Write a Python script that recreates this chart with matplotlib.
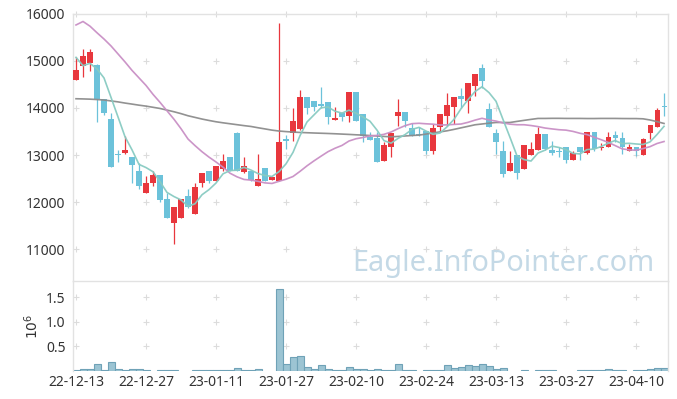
"""
Candlestick chart with moving averages and a volume panel
(Eagle.InfoPointer.com style), 22-12-13 .. 23-04-14.
"""

import numpy as np
import matplotlib
matplotlib.use("Agg")
import matplotlib.pyplot as plt

plt.rcParams['font.family'] = ['Noto Sans', 'DejaVu Sans']

# ---- data ----
dates = [
    "22-12-13", "22-12-14", "22-12-15", "22-12-16", "22-12-19", "22-12-20", "22-12-21",
    "22-12-22", "22-12-23", "22-12-26", "22-12-27", "22-12-28", "22-12-29",
    "23-01-02", "23-01-03", "23-01-04", "23-01-05", "23-01-06", "23-01-09", "23-01-10",
    "23-01-11", "23-01-12", "23-01-13", "23-01-16", "23-01-17", "23-01-18", "23-01-19",
    "23-01-20", "23-01-25", "23-01-26", "23-01-27", "23-01-30", "23-01-31",
    "23-02-01", "23-02-02", "23-02-03", "23-02-06", "23-02-07", "23-02-08", "23-02-09",
    "23-02-10", "23-02-13", "23-02-14", "23-02-15", "23-02-16", "23-02-17", "23-02-20",
    "23-02-21", "23-02-22", "23-02-23", "23-02-24", "23-02-27", "23-02-28",
    "23-03-02", "23-03-03", "23-03-06", "23-03-07", "23-03-08", "23-03-09", "23-03-10",
    "23-03-13", "23-03-14", "23-03-15", "23-03-16", "23-03-17", "23-03-20", "23-03-21",
    "23-03-22", "23-03-23", "23-03-24", "23-03-27", "23-03-28", "23-03-29", "23-03-30",
    "23-03-31", "23-04-03", "23-04-04", "23-04-05", "23-04-06", "23-04-07", "23-04-10",
    "23-04-11", "23-04-12", "23-04-13", "23-04-14",
]

opens = [14600, 14900, 14950, 14910, 14200, 13760, 13020, 13040, 12950, 12660,
         12200, 12410, 12570, 12060, 11560, 11650, 12120, 11750, 12410, 12650,
         12450, 12700, 12950, 13460, 12640, 12660, 12340, 12720, 12470, 12450,
         13330, 13460, 13550, 14230, 14140, 14080, 14120, 13750, 13900, 13820,
         14330, 13870, 13390, 13360, 12880, 13170, 13830, 13910, 13570, 13440,
         13510, 13080, 13590, 13830, 14030, 14250, 14150, 14460, 14850, 13980,
         13460, 13090, 12660, 13000, 12700, 13000, 13110, 13440, 13110, 13080,
         13160, 12900, 13180, 13050, 13500, 13140, 13160, 13420, 13370, 13090,
         13160, 13000, 13460, 13590, 14040]
highs = [15090, 15250, 15250, 14940, 14200, 13900, 13100, 13410, 12950, 12840,
         12560, 12650, 12580, 12200, 11900, 12060, 12270, 12410, 12610, 12650,
         12760, 13020, 12950, 13500, 12950, 12660, 13020, 12720, 12540, 15800,
         13430, 13990, 14390, 14230, 14140, 14440, 14120, 14030, 13900, 14350,
         14350, 13870, 13480, 13480, 13280, 13470, 14190, 13910, 13690, 13590,
         13510, 13660, 13870, 14310, 14230, 14420, 14530, 14720, 14940, 14100,
         13550, 13290, 13090, 13000, 13210, 13270, 13590, 13440, 13290, 13170,
         13160, 13090, 13180, 13500, 13500, 13250, 13480, 13520, 13480, 13230,
         13160, 13370, 13640, 13990, 14310]
lows = [14600, 14650, 14790, 13710, 13860, 12750, 12860, 13030, 12410, 12270,
        12200, 12340, 12010, 11650, 11110, 11650, 11880, 11750, 12310, 12410,
        12450, 12650, 12650, 12650, 12610, 12450, 12340, 12450, 12470, 12450,
        13120, 13300, 13530, 13870, 13940, 14010, 13670, 13750, 13730, 13710,
        13730, 13270, 13320, 12850, 12880, 12950, 13610, 13590, 13410, 13410,
        13030, 13020, 13510, 13620, 13660, 14010, 13900, 14250, 14420, 13600,
        13020, 12540, 12660, 12500, 12700, 13000, 13110, 13100, 13000, 12960,
        12820, 12900, 12900, 13030, 13090, 13110, 13160, 13270, 13030, 13090,
        12980, 13000, 13340, 13590, 13830]
closes = [14810, 15100, 15200, 14190, 13890, 12750, 13010, 13100, 12790, 12340,
          12410, 12570, 12040, 11650, 11900, 12060, 11900, 12310, 12610, 12450,
          12760, 12880, 12650, 12650, 12760, 12470, 12500, 12450, 12540, 13270,
          13300, 13720, 14230, 14000, 14020, 14050, 13810, 13780, 13800, 14330,
          13730, 13410, 13320, 12850, 13210, 13470, 13910, 13730, 13410, 13420,
          13080, 13570, 13870, 14060, 14230, 14200, 14530, 14720, 14580, 13600,
          13280, 12590, 12820, 12610, 13210, 13120, 13440, 13120, 13040, 13070,
          12900, 13040, 13070, 13500, 13120, 13160, 13390, 13360, 13170, 13160,
          13090, 13340, 13640, 13960, 14030]

# moving averages as drawn (5 / 20 / long)
ma5 = [15077, 14900, 14950, 14830, 14639, 14226, 13810, 13389, 13110, 12800,
       12733, 12644, 12433, 12204, 12116, 12045, 11910, 11963, 12155, 12264,
       12404, 12600, 12669, 12677, 12738, 12680, 12605, 12565, 12544, 12646,
       12812, 13056, 13412, 13703, 13854, 14004, 14022, 13931, 13892, 13954,
       13890, 13809, 13718, 13529, 13305, 13252, 13353, 13434, 13545, 13588,
       13510, 13440, 13468, 13599, 13759, 13985, 14178, 14349, 14452, 14327,
       14143, 13755, 13374, 12981, 12903, 12872, 13042, 13103, 13189, 13160,
       13115, 13034, 13023, 13115, 13126, 13179, 13249, 13308, 13242, 13249,
       13235, 13224, 13279, 13436, 13610]
ma20 = [15766, 15840, 15740, 15600, 15467, 15320, 15150, 14980, 14800, 14640,
        14480, 14290, 14120, 13940, 13760, 13560, 13340, 13200, 13070, 12955,
        12852, 12741, 12613, 12536, 12480, 12466, 12440, 12407, 12395, 12441,
        12485, 12543, 12652, 12770, 12876, 12975, 13071, 13144, 13204, 13298,
        13346, 13373, 13407, 13417, 13440, 13489, 13560, 13624, 13667, 13675,
        13664, 13656, 13638, 13641, 13651, 13659, 13695, 13742, 13781, 13745,
        13722, 13682, 13656, 13644, 13644, 13627, 13604, 13574, 13555, 13538,
        13529, 13502, 13462, 13434, 13379, 13327, 13270, 13202, 13132, 13110,
        13100, 13137, 13178, 13245, 13287]
ma_long = [14197, 14193, 14188, 14180, 14170, 14150, 14130, 14105, 14083, 14060,
           14040, 14015, 13990, 13955, 13920, 13880, 13835, 13800, 13765, 13735,
           13707, 13685, 13665, 13645, 13625, 13607, 13580, 13555, 13529, 13510,
           13498, 13488, 13480, 13474, 13468, 13463, 13458, 13452, 13445, 13438,
           13430, 13423, 13414, 13405, 13395, 13387, 13395, 13405, 13415, 13423,
           13445, 13470, 13492, 13515, 13545, 13578, 13610, 13643, 13660, 13677,
           13692, 13692, 13692, 13715, 13737, 13758, 13778, 13778, 13780, 13780,
           13778, 13778, 13778, 13776, 13776, 13778, 13778, 13778, 13776, 13775,
           13775, 13770, 13745, 13710, 13671]

# volume in millions of shares
volume_m = [0.015, 0.04, 0.04, 0.14, 0.015, 0.18, 0.04, 0.015, 0.04, 0.04,
            0.015, 0, 0.015, 0.015, 0.015, 0, 0, 0.015, 0.015, 0.015,
            0.015, 0.015, 0.015, 0.06, 0.015, 0.015, 0.04, 0, 0, 1.66,
            0.15, 0.29, 0.31, 0.08, 0.04, 0.12, 0.04, 0.015, 0.015, 0.08,
            0.04, 0.04, 0.015, 0.04, 0.015, 0.015, 0.14, 0.015, 0.015, 0,
            0.015, 0.015, 0.015, 0.12, 0.06, 0.08, 0.12, 0.10, 0.14, 0.10,
            0.04, 0.06, 0, 0, 0.015, 0, 0.015, 0.015, 0.015, 0,
            0, 0, 0.015, 0.015, 0.015, 0.015, 0.04, 0.015, 0.015, 0,
            0.015, 0.015, 0.04, 0.06, 0.06]

price_ticks = [11000, 12000, 13000, 14000, 15000, 16000]
vol_ticks = [0.5, 1.0, 1.5]
date_tick_step = 10

UP = '#e8373d'
DOWN = '#6cc2da'
SPINE = '#e2e2e2'
GRID = '#dcdcdc'
TEXT = '#333333'


def style_axes(ax):
    for side in ('top', 'left', 'right'):
        ax.spines[side].set_color(SPINE)
        ax.spines[side].set_linewidth(1.0)
    ax.spines['bottom'].set_visible(False)
    ax.tick_params(length=0, colors=TEXT, labelsize=10)


def plus_grid(ax, xs, ys):
    gx, gy = np.meshgrid(xs, ys)
    ax.scatter(gx.ravel(), gy.ravel(), marker='+', s=22, c=GRID,
               linewidths=0.8, zorder=0, clip_on=False)


fig = plt.figure(figsize=(6.77, 3.99), dpi=100)
ax = fig.add_axes([0.1071, 0.2957, 0.8789, 0.6693])
axv = fig.add_axes([0.1071, 0.0702, 0.8789, 0.2255], sharex=ax)

n = len(closes)
x = np.arange(n)
o = np.array(opens)
c = np.array(closes)
up = c >= o
colors = np.where(up, UP, DOWN)

# candles: wicks then bodies
ax.vlines(x, lows, highs, colors=colors, linewidth=0.9, zorder=2)
body_low = np.minimum(o, c)
body_h = np.maximum(np.abs(c - o), 15)
ax.bar(x, body_h, bottom=body_low, width=0.72, color=colors, linewidth=0, zorder=3)

# moving averages
ax.plot(x, ma_long, color='#8c8c8c', linewidth=1.2, alpha=0.95, zorder=4)
ax.plot(x, ma20, color='#c98fc5', linewidth=1.2, alpha=0.95, zorder=4)
ax.plot(x, ma5, color='#88cbc2', linewidth=1.2, alpha=0.95, zorder=4)

tick_idx = list(range(0, n, date_tick_step))
ax.set_xlim(-0.5, n - 0.5)
ax.set_ylim(10320, 16000)
ax.set_yticks(price_ticks)
ax.set_yticklabels([str(v) for v in price_ticks])
plus_grid(ax, tick_idx, price_ticks)
style_axes(ax)
ax.tick_params(axis='x', labelbottom=False)
ax.tick_params(axis='y', pad=5)

# watermark, placed in figure pixels (origin bottom-left)
ax.text(352, 399 - 271, "Eagle.InfoPointer.com", transform=None, fontsize=20.8,
        color='#c4d9e6', ha='left', va='baseline', zorder=1)

# volume
vol = np.array(volume_m)
has_vol = vol > 0
axv.bar(x[has_vol], vol[has_vol], width=1.0, color='#9cc4d3',
        edgecolor='#6fa2b7', linewidth=0.8, zorder=2)
axv.set_ylim(0, 1.83)
axv.set_yticks(vol_ticks)
axv.set_yticklabels([f"{v:.1f}" for v in vol_ticks])
axv.set_ylabel(r'$10^6$', fontsize=10, color=TEXT, labelpad=3)
plus_grid(axv, tick_idx, vol_ticks)
style_axes(axv)
axv.set_xticks(tick_idx)
axv.set_xticklabels([dates[i] for i in tick_idx])
axv.tick_params(axis='x', pad=3)
axv.tick_params(axis='y', pad=5)

fig.savefig("out.png", dpi=100)
plt.close(fig)
